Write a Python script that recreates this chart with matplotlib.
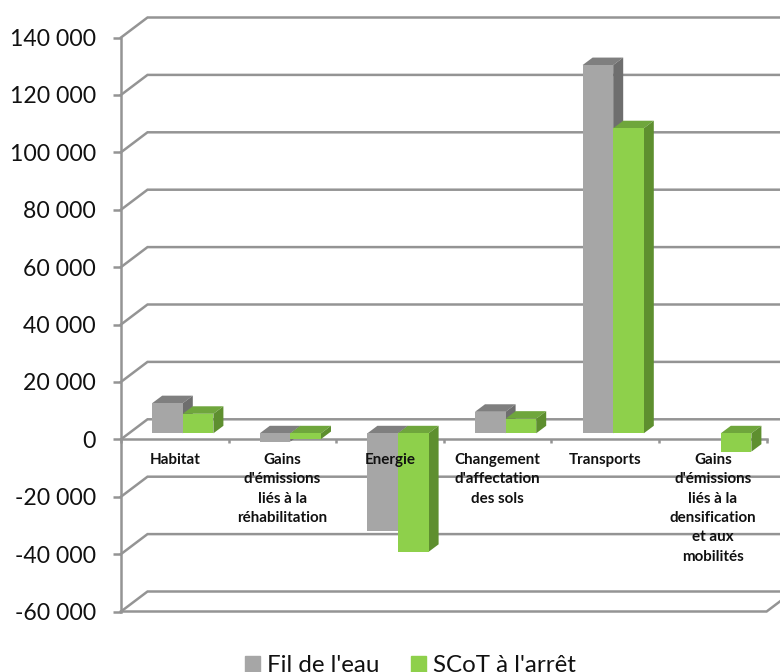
import matplotlib
matplotlib.use("Agg")
from matplotlib import pyplot as plt
from matplotlib.patches import Patch, Polygon

categories = ["Habitat", "Gains\nd'émissions\nliés à la\nréhabilitation", "Energie",
              "Changement\nd'affectation\ndes sols", "Transports",
              "Gains\nd'émissions\nliés à la\ndensification\net aux\nmobilités"]
fil_de_leau = [10500, -2900, -33900, 7500, 128300, 0]
scot_arret = [6800, -2000, -41300, 5100, 106300, -6400]
y_ticks = [-60000, -40000, -20000, 0, 20000, 40000, 60000, 80000, 100000, 120000, 140000]
tick_labels = ["-60 000", "-40 000", "-20 000", "0", "20 000", "40 000", "60 000",
               "80 000", "100 000", "120 000", "140 000"]

W, H = 780, 672
CAT_PX = 107.6
VAL_PX = 57.4 / 20000

GRID = "#949494"
GREY = ("#a6a6a6", "#7f7f7f", "#6e6e6e")
GREEN = ("#8ed04b", "#6fa63c", "#5e8f2f")
FONT = ["Lato", "DejaVu Sans"]

# wall depth and bar depth, in axis units
wall_dx, wall_dy = 26.5 / CAT_PX, 20 / VAL_PX
bar_dx, bar_dy = 10 / CAT_PX, 7.5 / VAL_PX
shift_x, shift_y = 8 / CAT_PX, 6 / VAL_PX
bar_w = 30.6 / CAT_PX

plt.rcParams["font.family"] = FONT
fig = plt.figure(figsize=(W / 100, H / 100), dpi=100)
left, right, top, bottom = 121, 766.6, 37.5, 611.5
ax = fig.add_axes([left / W, 1 - bottom / H, (right - left) / W, (bottom - top) / H])
ax.set_xlim(0, 6)
ax.set_ylim(-60000, 140000)

for s in ["top", "right"]:
    ax.spines[s].set_visible(False)
for s in ["left", "bottom"]:
    ax.spines[s].set_color(GRID)
    ax.spines[s].set_linewidth(1.8)
    ax.spines[s].set_zorder(1)
ax.spines["bottom"].set_position(("data", 0))

ax.set_yticks(y_ticks, tick_labels, fontsize=16.6, color="#111111")
ax.tick_params(axis="y", length=6, width=1.8, color=GRID, pad=12)
ax.set_xticks(range(7), [""] * 7)
ax.tick_params(axis="x", length=3, width=1.8, color=GRID)
ax.set_xticks([i + 0.5 for i in range(6)], categories, minor=True, fontsize=10.9,
              fontweight="bold", linespacing=1.48, color="#111111")
ax.tick_params(axis="x", which="minor", length=0, pad=10)
# labels sit over the bars
ax.xaxis.set_zorder(5)

# walls: one bent line per y tick
for v in y_ticks:
    ax.plot([0, wall_dx, 6 + wall_dx], [v, v + wall_dy, v + wall_dy], color=GRID, lw=1.8,
            clip_on=False, zorder=1, solid_joinstyle="miter")
ax.plot([0, 6, 6 + wall_dx], [-60000, -60000, -60000 + wall_dy], color=GRID, lw=1.8,
        clip_on=False, zorder=1, solid_joinstyle="miter")


def draw_bar(x, value, colors):
    if value == 0:
        return
    front, roof, side = colors
    x1 = x + bar_w
    base = shift_y
    high = base + max(value, 0)
    low = base + min(value, 0)
    ax.add_patch(Polygon([(x, high), (x1, high), (x1 + bar_dx, high + bar_dy), (x + bar_dx, high + bar_dy)],
                         fc=roof, ec="none", zorder=3, clip_on=False))
    ax.add_patch(Polygon([(x1, low), (x1 + bar_dx, low + bar_dy), (x1 + bar_dx, high + bar_dy), (x1, high)],
                         fc=side, ec="none", zorder=3, clip_on=False))
    ax.bar(x, value, bar_w, bottom=base, align="edge", color=front, zorder=3, clip_on=False)


for i in range(len(categories)):
    x0 = i + 0.5 + shift_x - bar_w
    draw_bar(x0, fil_de_leau[i], GREY)
    draw_bar(x0 + bar_w, scot_arret[i], GREEN)

handles = [Patch(color=GREY[0], label="Fil de l'eau"), Patch(color=GREEN[0], label="SCoT à l'arrêt")]
fig.legend(handles=handles, loc="center", bbox_to_anchor=(410.5 / W, 1 - 666 / H), ncol=2, frameon=False,
           fontsize=17.4, handlelength=0.62, handleheight=0.62, handletextpad=0.29, columnspacing=1.32,
           borderpad=0, labelcolor="#111111")

fig.savefig("out.png", dpi=100)
